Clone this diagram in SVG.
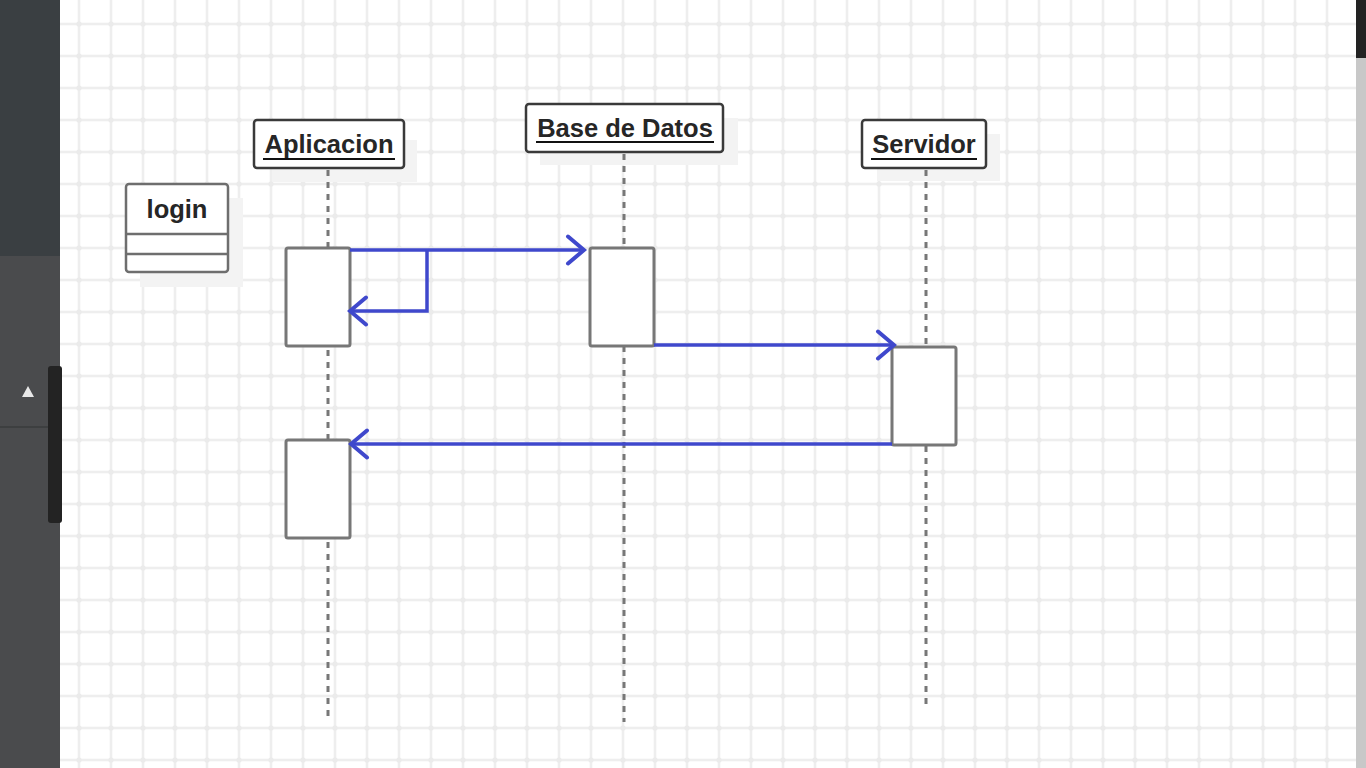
<svg xmlns="http://www.w3.org/2000/svg" width="1366" height="768" viewBox="0 0 1366 768">
<style>
.hdr{fill:#fff;stroke:#3a3a3a;stroke-width:2.5}
.shadow{fill:#f3f3f3}
.t{font-family:"Liberation Sans",Arial,sans-serif;font-weight:bold;font-size:25.5px;fill:#262626;text-anchor:middle}
.ul{stroke:#111;stroke-width:2}
.life{stroke:#777;stroke-width:3;stroke-dasharray:6 6;fill:none}
.act{fill:#fff;stroke:#777;stroke-width:3}
.msg{stroke:#3f48cc;stroke-width:3.5;fill:none}
</style>
<defs>
<pattern id="grid" patternUnits="userSpaceOnUse" x="63" y="8" width="32" height="32">
<rect width="32" height="32" fill="#fff"/>
<path d="M16 0V32M0 16H32" stroke="#eeeeee" stroke-width="2.5"/>
<circle cx="16" cy="16" r="2.6" fill="#ebebeb"/>
</pattern>
<marker id="ah" viewBox="0 0 22 32" refX="19" refY="16" markerWidth="22" markerHeight="32" markerUnits="userSpaceOnUse" orient="auto">
<path d="M3 2.5L19 16L3 29.5" fill="none" stroke="#3f48cc" stroke-width="4" stroke-linecap="round"/>
</marker>
</defs>
<rect x="0" y="0" width="1366" height="768" fill="#fff"/>
<rect x="60" y="0" width="1296" height="768" fill="url(#grid)"/>
<!-- sidebar -->
<rect x="0" y="0" width="60" height="256" fill="#3a3f42"/>
<rect x="0" y="256" width="60" height="512" fill="#4a4b4d"/>
<line x1="0" y1="427" x2="48" y2="427" stroke="#3a3b3d" stroke-width="1.5"/>
<polygon points="28,386 34,397 22,397" fill="#e8e8e8"/>
<rect x="48" y="366" width="14" height="157" rx="3" fill="#232323"/>
<!-- right scrollbar -->
<rect x="1356" y="0" width="10" height="58" fill="#232323"/>
<rect x="1356" y="58" width="10" height="710" fill="#c8c8c8"/>

<g id="login">
<rect class="shadow" x="140" y="198" width="103" height="89"/>
<rect x="126" y="184" width="102" height="88" rx="3" fill="#fff" stroke="#6e6e6e" stroke-width="2.5"/>
<line x1="126" y1="234" x2="228" y2="234" stroke="#6e6e6e" stroke-width="2.5"/>
<line x1="126" y1="254" x2="228" y2="254" stroke="#6e6e6e" stroke-width="2.5"/>
<text class="t" x="177" y="218">login</text>
</g>

<g id="aplicacion">
<rect class="shadow" x="272" y="140" width="145" height="42"/>
<rect class="hdr" x="254" y="120" width="150" height="48" rx="3"/>
<text class="t" x="329" y="153">Aplicacion</text>
<line class="ul" x1="263" y1="159" x2="395" y2="159"/>
</g>

<g id="basededatos">
<rect class="shadow" x="540" y="118" width="198" height="47"/>
<rect class="hdr" x="526" y="104" width="197" height="48" rx="3"/>
<text class="t" x="625" y="137">Base de Datos</text>
<line class="ul" x1="536" y1="142" x2="714" y2="142"/>
</g>

<g id="servidor">
<rect class="shadow" x="877" y="134" width="123" height="47"/>
<rect class="hdr" x="862" y="120" width="124" height="48" rx="3"/>
<text class="t" x="924" y="153">Servidor</text>
<line class="ul" x1="871" y1="159" x2="977" y2="159"/>
</g>

<g id="connectors">
<line class="life" x1="328" y1="170" x2="328" y2="722"/>
<line class="life" x1="624" y1="154" x2="624" y2="722"/>
<line class="life" x1="926" y1="170" x2="926" y2="708"/>
</g>

<g id="act-aplicacion-1"><rect class="act" x="286" y="248" width="64" height="98" rx="2"/></g>
<g id="act-aplicacion-2"><rect class="act" x="286" y="440" width="64" height="98" rx="2"/></g>
<g id="act-bd-1"><rect class="act" x="590" y="248" width="64" height="98" rx="2"/></g>
<g id="act-servidor-1"><rect class="act" x="892" y="347" width="64" height="98" rx="2"/></g>

<g id="messages">
<path class="msg" d="M350 250H584" marker-end="url(#ah)"/>
<path class="msg" d="M427 250V311H350" marker-end="url(#ah)"/>
<path class="msg" d="M654 345H894" marker-end="url(#ah)"/>
<path class="msg" d="M892 444H351" marker-end="url(#ah)"/>
</g>
</svg>
